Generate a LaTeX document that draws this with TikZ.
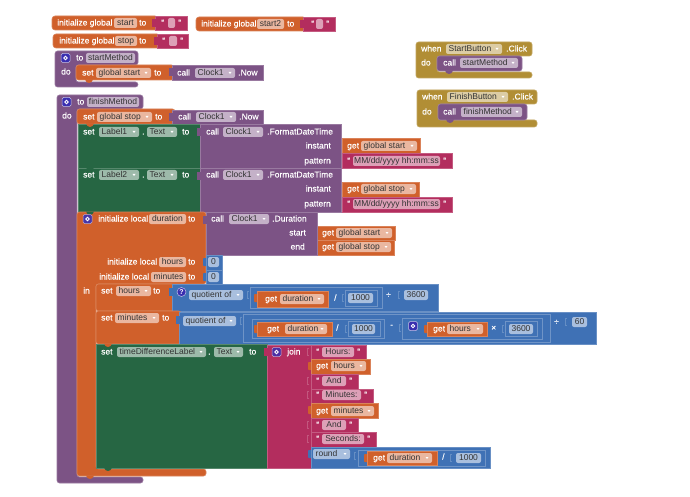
\documentclass[tikz,border=0pt]{standalone}
\usepackage{fontspec}
\setmainfont{Liberation Sans}
\newfontfamily\wfont[FakeBold=0.25]{Liberation Sans}
\definecolor{cOr}{HTML}{D0602B}
\definecolor{cPk}{HTML}{B32D5E}
\definecolor{cPu}{HTML}{7C5385}
\definecolor{cGr}{HTML}{266643}
\definecolor{cBl}{HTML}{3F71B5}
\definecolor{cGo}{HTML}{B18E35}
\definecolor{cIc}{HTML}{3A2FB0}
\newcounter{nn}
\tikzset{
  wtxt/.style={text=white,font=\wfont\fontsize{8.5}{10}\selectfont,inner sep=0pt,text height=7pt,text depth=2pt},
  ftxt/.style={text=black!80,font=\fontsize{8.5}{10}\selectfont,inner sep=0pt,text height=7pt,text depth=2pt},
}
% plain rectangular block with a pale rim
\newcommand\blk[5]{\filldraw[fill=#1,draw=#1!78!white,line width=.6pt] (#2,#3) rectangle (#4,#5);}
% value block: rectangle plus an output tab on its left edge
\newcommand\val[5]{\fill[#1,rounded corners=.8pt] (#2-3,#3+3) rectangle (#2+1,#3+11);\blk{#1}{#2}{#3}{#4}{#5}}
% connection notch hanging below a statement edge
\newcommand\notch[3]{\fill[#1] (#2,#3-.5) -- (#2+1.5,#3+2) -- (#2+4,#3+3) -- (#2+6.5,#3+2) -- (#2+8,#3-.5) -- cycle;}
% input socket mark
\newcommand\sock[3]{\draw[#1!80!white,line width=.6pt] (#2+1.5,#3-3.5) -- (#2,#3-3.5) -- (#2,#3+3.5) -- (#2+1.5,#3+3.5);}
% white label, anchored left or right
\newcommand\tl[3]{\stepcounter{nn}\node[wtxt,anchor=west] (n\thenn) at (#1,#2) {#3};}
\newcommand\tr[3]{\stepcounter{nn}\node[wtxt,anchor=east] (n\thenn) at (#1,#2) {#3};}
% editable field, text centred
\newcommand\fld[5]{\fill[#1!45!white,rounded corners=2pt] (#2,#4-5) rectangle (#3,#4+5);
  \stepcounter{nn}\node[ftxt] (n\thenn) at ({(#2+#3)/2},#4) {#5};}
% dropdown field: text on the left, small arrow on the right
\newcommand\drp[5]{\fill[#1!45!white,rounded corners=2pt] (#2,#4-5) rectangle (#3,#4+5);
  \stepcounter{nn}\node[ftxt,anchor=west] (n\thenn) at (#2+2.5,#4) {#5};
  \fill[white] (#3-6.5,#4-1) -- (#3-3.5,#4-1) -- (#3-5,#4+1) -- cycle;}
% text literal: opening quote, field, closing quote
\newcommand\str[5]{\tl{#1}{#4}{“}\fld{cPk}{#2}{#3}{#4}{#5}\tl{#3+3}{#4}{”}}
% gear icon
\newcommand\ico[3]{\filldraw[fill=#1,draw=white!70!#1,line width=.5pt,rounded corners=1.5pt] (#2,#3-4.5) rectangle (#2+9,#3+4.5);
  \draw[white,line width=.9pt] (#2+4.5,#3) circle (1.8);}
\begin{document}
\begin{tikzpicture}[x=1pt,y=-1pt]
\useasboundingbox (0,0) rectangle (690,497);
\fill[white] (0,0) rectangle (690,497);

% global variables
\filldraw[fill=cOr,draw=cOr!78!white,line width=.6pt,rounded corners=3pt] (52,16) rectangle (158,30);
\blk{cPk}{155}{16}{187}{30}
\fill[cPk] (152,19) rectangle (156,27);
\tl{57}{23}{initialize global}\fld{cOr}{114}{137}{23}{start}\tl{139}{23}{to}
\str{161}{168}{175}{23}{}
\filldraw[fill=cOr,draw=cOr!78!white,line width=.6pt,rounded corners=3pt] (196,17) rectangle (306,31);
\blk{cPk}{303}{17}{335}{31}
\fill[cPk] (300,20) rectangle (304,28);
\tl{201}{24}{initialize global}\fld{cOr}{257}{284}{24}{start2}\tl{287}{24}{to}
\str{311}{316}{323}{24}{}
\filldraw[fill=cOr,draw=cOr!78!white,line width=.6pt,rounded corners=3pt] (53,34) rectangle (160,48);
\blk{cPk}{157}{34}{188}{48}
\fill[cPk] (154,37) rectangle (158,45);
\tl{59}{41}{initialize global}\fld{cOr}{115}{137}{41}{stop}\tl{139}{41}{to}
\str{162}{169}{177}{41}{}

% procedure startMethod
\filldraw[fill=cPu,draw=cPu!78!white,line width=.6pt,rounded corners=2.5pt] (55,51) -- (138,51) -- (138,65) -- (76,65) -- (76,82) -- (138,82) -- (138,87) -- (55,87) -- cycle;
\ico{cIc}{61}{58}\tl{76}{58}{to}\fld{cPu}{86}{135}{58}{startMethod}
\tl{61}{72}{do}
\filldraw[fill=cOr,draw=cOr!78!white,line width=.6pt,rounded corners=2.5pt] (76,65) rectangle (174,80);
\notch{cOr}{85}{80}
\blk{cPu}{172}{65}{263}{80}\fill[cPu] (169,68) rectangle (173,76);
\tl{82}{73}{set}\drp{cOr}{96}{151}{73}{global start}\tl{154}{73}{to}
\tl{177}{73}{call}\drp{cPu}{195}{235}{73}{Clock1}\tl{238}{73}{.Now}

% procedure finishMethod
\filldraw[fill=cPu,draw=cPu!78!white,line width=.6pt,rounded corners=2.5pt] (57,95) -- (143,95) -- (143,109) -- (77,109) -- (77,477) -- (143,477) -- (143,483) -- (57,483) -- cycle;
\ico{cIc}{62}{102}\tl{77}{102}{to}\fld{cPu}{87}{139}{102}{finishMethod}
\tl{62}{116}{do}

% set global stop
\filldraw[fill=cOr,draw=cOr!78!white,line width=.6pt,rounded corners=2.5pt] (77,109) rectangle (175,124);
\blk{cPu}{172}{110}{263}{124}\fill[cPu] (169,113) rectangle (173,121);
\tl{83}{117}{set}\drp{cOr}{97}{152}{117}{global stop}\tl{155}{117}{to}
\tl{178}{117}{call}\drp{cPu}{196}{236}{117}{Clock1}\tl{239}{117}{.Now}

% value blocks sitting to the right of the FormatDateTime calls
\val{cOr}{342}{138}{420}{153}
\val{cOr}{342}{182}{419}{197}
\val{cPk}{342}{153}{452}{168}
\val{cPk}{342}{197}{452}{212}

% Label1 and Label2
\blk{cGr}{78}{124}{200}{168}
\blk{cPu}{200}{124}{341}{168}
\fill[cPu] (197,128) rectangle (201,136);
\notch{cOr}{86}{124}
\blk{cGr}{78}{168}{200}{212}
\blk{cPu}{200}{168}{341}{212}
\fill[cPu] (197,172) rectangle (201,180);
\notch{cGr}{86}{168}
\tl{83}{132}{set}\drp{cGr}{99}{139}{132}{Label1}\tl{142}{132}{.}\drp{cGr}{147}{177}{132}{Text}\tl{182}{132}{to}
\tl{206}{132}{call}\drp{cPu}{223}{263}{132}{Clock1}\tl{267}{132}{.FormatDateTime}
\tr{331}{146}{instant}\tr{331}{161}{pattern}
\tl{347}{146}{get}\drp{cOr}{361}{417}{146}{global start}
\str{347}{353}{440}{161}{MM/dd/yyyy hh:mm:ss}
\tl{83}{175}{set}\drp{cGr}{99}{139}{175}{Label2}\tl{142}{175}{.}\drp{cGr}{147}{177}{175}{Text}\tl{182}{175}{to}
\tl{206}{175}{call}\drp{cPu}{223}{263}{175}{Clock1}\tl{267}{175}{.FormatDateTime}
\tr{331}{189}{instant}\tr{331}{204}{pattern}
\tl{347}{189}{get}\drp{cOr}{361}{416}{189}{global stop}
\str{347}{353}{440}{204}{MM/dd/yyyy hh:mm:ss}

% initialize local block
\filldraw[fill=cOr,draw=cOr!78!white,line width=.6pt,rounded corners=2.5pt] (77,212) -- (206,212) -- (206,284) -- (96,284) -- (96,469) -- (206,469) -- (206,476) -- (77,476) -- cycle;
\notch{cGr}{86}{212}
\notch{cOr}{86}{476}
\val{cOr}{317}{226}{395}{240}
\val{cOr}{317}{240}{394}{255}
\blk{cPu}{206}{212}{317}{255}
\fill[cPu] (203,216) rectangle (207,224);
\ico{cIc!80!cPu}{83}{219}\tl{98}{219}{initialize local}\fld{cOr}{149}{186}{219}{duration}\tl{188}{219}{to}
\tl{211}{219}{call}\drp{cPu}{229}{269}{219}{Clock1}\tl{272}{219}{.Duration}
\tr{306}{233}{start}\tr{305}{247}{end}
\tl{322}{233}{get}\drp{cOr}{336}{392}{233}{global start}
\tl{322}{247}{get}\drp{cOr}{336}{391}{247}{global stop}
\val{cBl}{206}{255}{222}{270}
\val{cBl}{206}{270}{222}{284}
\tl{107}{262}{initialize local}\fld{cOr}{159}{186}{262}{hours}\tl{188}{262}{to}\fld{cBl}{208}{219}{262}{0}
\tl{99}{277}{initialize local}\fld{cOr}{151}{186}{277}{minutes}\tl{188}{277}{to}\fld{cBl}{208}{219}{277}{0}
\tl{83}{291}{in}

% set hours
\filldraw[fill=cOr,draw=cOr!78!white,line width=.6pt,rounded corners=2.5pt] (96,284) rectangle (174,311);
\blk{cBl}{172}{284}{438}{311}\fill[cBl] (169,288) rectangle (173,296);
\tl{101}{291}{set}\drp{cOr}{116}{151}{291}{hours}\tl{153}{291}{to}
\filldraw[fill=cIc,draw=white!70!cIc,line width=.5pt] (181.5,292) circle (4.5);
\stepcounter{nn}\node[wtxt,font=\fontsize{7}{8}\bfseries\selectfont] (n\thenn) at (181.5,292) {?};
\drp{cBl}{189}{243}{295}{quotient of}
\draw[cBl!75!white,line width=.6pt] (250,287) rectangle (382,308);
\sock{cBl}{247}{295}
\val{cOr}{257}{291}{328}{307}
\tl{265}{299}{get}\drp{cOr}{280}{324}{299}{duration}
\tl{334}{298}{/}\sock{cBl}{342}{298}
\draw[cBl!75!white,line width=.6pt] (345,290) rectangle (377,306);
\fld{cBl}{348}{373}{298}{1000}
\tl{386}{295}{÷}\sock{cBl}{398}{295}
\fld{cBl}{404}{428}{295}{3600}

% set minutes
\filldraw[fill=cOr,draw=cOr!78!white,line width=.6pt,rounded corners=2.5pt] (96,311) rectangle (181,344);
\blk{cBl}{179}{312}{596}{344}\fill[cBl] (176,316) rectangle (180,324);
\tl{101}{318}{set}\drp{cOr}{115}{159}{318}{minutes}\tl{162}{318}{to}
\drp{cBl}{183}{236}{321}{quotient of}
\draw[cBl!75!white,line width=.6pt] (243,314) rectangle (550,342);
\sock{cBl}{240}{321}
\draw[cBl!75!white,line width=.6pt] (252,319) rectangle (384,338);
\val{cOr}{257}{322}{332}{336}
\tl{267}{329}{get}\drp{cOr}{285}{327}{329}{duration}
\tl{336}{328}{/}\sock{cBl}{345}{329}
\draw[cBl!75!white,line width=.6pt] (348,321) rectangle (380,336);
\fld{cBl}{352}{375}{329}{1000}
\tl{390}{325}{-}\sock{cBl}{399}{328}
\draw[cBl!75!white,line width=.6pt] (402,318) rectangle (542,339);
\ico{cIc}{408.5}{326}
\val{cOr}{427}{322}{487}{336}
\tl{433}{329}{get}\drp{cOr}{447}{483}{329}{hours}
\tl{491}{328}{×}\sock{cBl}{502}{329}
\draw[cBl!75!white,line width=.6pt] (505,321) rectangle (537,336);
\fld{cBl}{509}{533}{329}{3600}
\tl{554}{322}{÷}\sock{cBl}{565}{322}
\fld{cBl}{572}{587}{322}{60}

% set timeDifferenceLabel
\blk{cGr}{96}{344}{267}{468}
\notch{cGr}{104}{468}
\notch{cOr}{104}{344}
\blk{cPk}{267}{345}{311}{468}
\fill[cPk] (264,348) rectangle (268,356);
\tl{101}{352}{set}\drp{cGr}{117}{206}{352}{timeDifferenceLabel}\tl{208}{352}{.}\drp{cGr}{214}{243}{352}{Text}\tl{249}{352}{to}
\ico{cIc!85!cPk}{272}{352}\tl{287}{352}{join}

% join inputs
\blk{cPk}{311}{345}{366}{359}\sock{cPk}{307}{352}
\str{316}{322}{354}{352}{Hours:}
\val{cOr}{311}{359}{370}{374}\tl{316}{366}{get}\drp{cOr}{331}{366}{366}{hours}
\blk{cPk}{311}{374}{358}{389}\sock{cPk}{307}{381}
\str{316}{322}{346}{381}{And}
\blk{cPk}{311}{389}{373}{403}\sock{cPk}{307}{395}
\str{316}{322}{361}{395}{Minutes:}
\val{cOr}{311}{403}{378}{418}\tl{316}{411}{get}\drp{cOr}{331}{374}{411}{minutes}
\blk{cPk}{311}{418}{358}{432}\sock{cPk}{307}{425}
\str{316}{322}{346}{425}{And}
\blk{cPk}{311}{432}{376}{447}\sock{cPk}{307}{439}
\str{316}{322}{364}{439}{Seconds:}
\val{cBl}{311}{447}{490}{468}
\drp{cBl}{313}{350}{454}{round}
\draw[cBl!75!white,line width=.6pt] (358,450) rectangle (485,466);
\sock{cBl}{354}{456}
\val{cOr}{367}{451}{437}{465}
\tl{373}{458}{get}\drp{cOr}{387}{432}{458}{duration}
\tl{442}{457}{/}\sock{cBl}{450}{458}
\fld{cBl}{456}{481}{458}{1000}

% button click handlers
\filldraw[fill=cGo,draw=cGo!78!white,line width=.6pt,rounded corners=2.5pt] (416,42) -- (532,42) -- (532,56) -- (437,56) -- (437,72) -- (532,72) -- (532,78) -- (416,78) -- cycle;
\tl{421}{49}{when}\drp{cGo}{446}{502}{49}{StartButton}\tl{506}{49}{.Click}\tl{421}{63}{do}
\filldraw[fill=cPu,draw=cPu!78!white,line width=.6pt,rounded corners=2.5pt] (437,56) rectangle (522,71);
\notch{cPu}{445}{71}
\tl{443}{63}{call}\drp{cPu}{460}{518}{63}{startMethod}
\filldraw[fill=cGo,draw=cGo!78!white,line width=.6pt,rounded corners=2.5pt] (417,90) -- (537,90) -- (537,104) -- (438,104) -- (438,120) -- (537,120) -- (537,127) -- (417,127) -- cycle;
\tl{422}{97}{when}\drp{cGo}{447}{508}{97}{FinishButton}\tl{512}{97}{.Click}\tl{422}{112}{do}
\filldraw[fill=cPu,draw=cPu!78!white,line width=.6pt,rounded corners=2.5pt] (438,104) rectangle (527,120);
\notch{cPu}{446}{120}
\tl{443}{112}{call}\drp{cPu}{461}{522}{112}{finishMethod}
\end{tikzpicture}
\end{document}
